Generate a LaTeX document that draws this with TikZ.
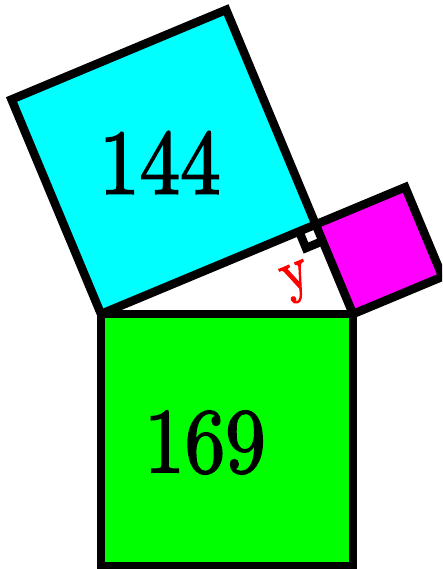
\documentclass[tikz,border=0pt]{standalone}
\usepackage{fontspec}
\newfontfamily\numfont{lmroman10-regular}[Extension=.otf,FakeBold=2]
\usetikzlibrary{calc}
\begin{document}
\begin{tikzpicture}[x=1pt,y=-1pt,
  edge/.style={line width=8.5pt, line join=miter, draw=black},
  bignum/.style={inner sep=0pt, font=\numfont\fontsize{92}{92}\selectfont},
  lbl/.style={inner sep=0pt, text=red, font=\numfont\fontsize{60}{60}\selectfont}]
\useasboundingbox (0,0) rectangle (442,569);
\clip (0,0) rectangle (442,569);
\coordinate (A) at (101,314);
\coordinate (B) at (353,314);
\coordinate (C) at (315.7,224.5);
\coordinate (Ap) at (11.5,99.5);
\coordinate (Cp) at (226.2,9.8);
\coordinate (Cm) at (405.2,187.2);
\coordinate (Bm) at (442.5,276.7);
\coordinate (Bg) at (353,566);
\coordinate (Ag) at (101,566);
% squares
\filldraw[edge, fill={rgb,255:red,0;green,255;blue,255}] (A) -- (C) -- (Cp) -- (Ap) -- cycle;
\filldraw[edge, fill={rgb,255:red,255;green,0;blue,255}] (C) -- (B) -- (Bm) -- (Cm) -- cycle;
\filldraw[edge, fill={rgb,255:red,0;green,255;blue,0}] (A) -- (B) -- (Bg) -- (Ag) -- cycle;
% right angle mark
\draw[edge] ($(C)+(-16.6,6.9)$) -- ($(C)+(-9.7,23.5)$) -- ($(C)+(6.9,16.6)$);
% labels
\node[bignum] (n144) at (160,162.5) {\scalebox{0.88}[1]{144}};
\node[bignum] (n169) at (205,442.5) {\scalebox{0.88}[1]{169}};
\node[lbl, rotate=22.6] (ly) at (298,282) {\scalebox{0.88}[1]{y}};
\end{tikzpicture}
\end{document}
